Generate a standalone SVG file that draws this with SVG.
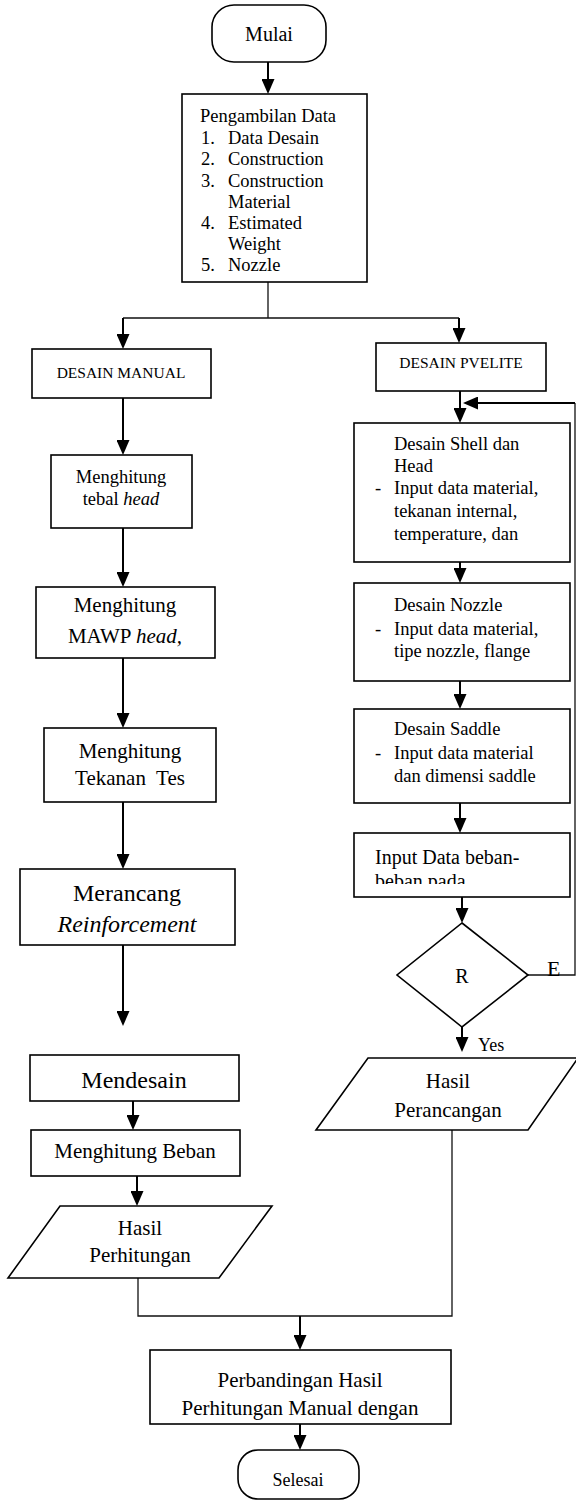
<svg xmlns="http://www.w3.org/2000/svg" width="576" height="1501" viewBox="0 0 576 1501">
<style>
.bx{fill:#fff;stroke:#000;stroke-width:1.6}
.t{font-family:"Liberation Serif","Times New Roman",serif;fill:#000}
.c{text-anchor:middle}
.ar{fill:none;stroke:#000;stroke-width:2;marker-end:url(#ah)}
.th{fill:none;stroke:#111;stroke-width:1.3}
</style>
<defs>
<marker id="ah" viewBox="0 0 15 13" refX="12" refY="6.5" markerWidth="15" markerHeight="13" markerUnits="userSpaceOnUse" orient="auto">
<path d="M0,0 L15,6.5 L0,13 z" fill="#000"/>
</marker>
<clipPath id="clipIn"><rect x="354" y="833" width="216" height="51"/></clipPath>
</defs>
<rect width="576" height="1501" fill="#fff"/>

<g id="connectors">
<path class="ar" d="M268,62 V91"/>
<path class="th" d="M268,282 V318 M123,318 H459"/>
<path class="ar" d="M123,318 V346"/>
<path class="ar" d="M459,318 V340"/>
<path class="ar" d="M123,398 V452"/>
<path class="ar" d="M123,528 V584"/>
<path class="ar" d="M123,658 V725"/>
<path class="ar" d="M123,802 V866"/>
<path class="ar" d="M123,945 V1023"/>
<path class="ar" d="M133,1101 V1127"/>
<path class="ar" d="M137,1176 V1203"/>
<path class="th" d="M138,1278 V1316 H452 V1130"/>
<path class="ar" d="M300,1316 V1347"/>
<path class="ar" d="M300,1424 V1447"/>
<path class="ar" d="M460,391 V420"/>
<path class="th" d="M528,975 H575 V403"/>
<path class="ar" d="M575,403 H466"/>
<path class="ar" d="M460,562 V580"/>
<path class="ar" d="M460,681 V706"/>
<path class="ar" d="M460,803 V830"/>
<path class="ar" d="M462,897 V920"/>
<path class="ar" d="M462,1027 V1049"/>
</g>

<g id="mulai">
<rect class="bx" x="212" y="5" width="114" height="57" rx="22"/>
<text class="t c" x="269" y="41" font-size="20">Mulai</text>
</g>

<g id="pengambilan">
<rect class="bx" x="182" y="94" width="185" height="188"/>
<g class="t" font-size="18.5">
<text class="c" x="268" y="122">Pengambilan Data</text>
<text x="201" y="144">1.</text><text x="228" y="144">Data Desain</text>
<text x="201" y="165">2.</text><text x="228" y="165">Construction</text>
<text x="201" y="187">3.</text><text x="228" y="187">Construction</text>
<text x="228" y="208">Material</text>
<text x="201" y="229">4.</text><text x="228" y="229">Estimated</text>
<text x="228" y="250">Weight</text>
<text x="201" y="271">5.</text><text x="228" y="271">Nozzle</text>
</g>
</g>

<g id="desain-manual">
<rect class="bx" x="32" y="349" width="179" height="49"/>
<text class="t c" x="121" y="378" font-size="15.5">DESAIN MANUAL</text>
</g>

<g id="tebal-head">
<rect class="bx" x="51" y="455" width="141" height="73"/>
<text class="t c" x="121" y="483" font-size="18.5">Menghitung</text>
<text class="t c" x="121" y="505" font-size="18.5">tebal <tspan font-style="italic">head</tspan></text>
</g>

<g id="mawp">
<rect class="bx" x="36" y="587" width="179" height="71"/>
<text class="t c" x="125" y="612" font-size="21">Menghitung</text>
<text class="t c" x="125" y="643" font-size="21">MAWP <tspan font-style="italic">head,</tspan></text>
</g>

<g id="tekanan-tes">
<rect class="bx" x="44" y="728" width="172" height="74"/>
<text class="t c" x="130" y="758" font-size="21">Menghitung</text>
<text class="t c" x="130" y="785" font-size="21">Tekanan&#160; Tes</text>
</g>

<g id="reinforcement">
<rect class="bx" x="20" y="869" width="215" height="76"/>
<text class="t c" x="127" y="901" font-size="24">Merancang</text>
<text class="t c" x="127" y="932" font-size="24" font-style="italic">Reinforcement</text>
</g>

<g id="mendesain">
<rect class="bx" x="30" y="1055" width="209" height="46"/>
<text class="t c" x="134" y="1088" font-size="24">Mendesain</text>
</g>

<g id="menghitung-beban">
<rect class="bx" x="31" y="1130" width="209" height="46"/>
<text class="t c" x="135" y="1158" font-size="21">Menghitung Beban</text>
</g>

<g id="hasil-perhitungan">
<polygon class="bx" points="60,1206 272,1206 219,1278 8,1278"/>
<text class="t c" x="140" y="1235" font-size="21">Hasil</text>
<text class="t c" x="140" y="1262" font-size="21">Perhitungan</text>
</g>

<g id="desain-pvelite">
<rect class="bx" x="376" y="343" width="170" height="48"/>
<text class="t c" x="461" y="368" font-size="15.5">DESAIN PVELITE</text>
</g>

<g id="desain-shell">
<rect class="bx" x="354" y="423" width="216" height="139"/>
<g class="t" font-size="18.5">
<text x="394" y="450">Desain Shell dan</text>
<text x="394" y="472">Head</text>
<text x="375" y="494">-</text><text x="394" y="494">Input data material,</text>
<text x="394" y="517">tekanan internal,</text>
<text x="394" y="540">temperature, dan</text>
</g>
</g>

<g id="desain-nozzle">
<rect class="bx" x="354" y="583" width="216" height="98"/>
<g class="t" font-size="18.5">
<text x="394" y="611">Desain Nozzle</text>
<text x="375" y="635">-</text><text x="394" y="635">Input data material,</text>
<text x="394" y="657">tipe nozzle, flange</text>
</g>
</g>

<g id="desain-saddle">
<rect class="bx" x="354" y="709" width="216" height="94"/>
<g class="t" font-size="18.5">
<text x="394" y="735">Desain Saddle</text>
<text x="375" y="759">-</text><text x="394" y="759">Input data material</text>
<text x="394" y="782">dan dimensi saddle</text>
</g>
</g>

<g id="input-beban">
<rect class="bx" x="354" y="833" width="216" height="64"/>
<g class="t" font-size="20" clip-path="url(#clipIn)">
<text x="375" y="864">Input Data beban-</text>
<text x="375" y="888">beban pada</text>
</g>
</g>

<g id="decision">
<polygon class="bx" points="462,923 528,975 462,1027 397,975"/>
<text class="t c" x="462" y="983" font-size="20">R</text>
<text class="t" x="547" y="976" font-size="22">E</text>
<text class="t" x="478" y="1051" font-size="18">Yes</text>
</g>

<g id="hasil-perancangan">
<polygon class="bx" points="368,1058 578,1058 528,1130 316,1130"/>
<text class="t c" x="448" y="1088" font-size="21">Hasil</text>
<text class="t c" x="448" y="1117" font-size="21">Perancangan</text>
</g>

<g id="perbandingan">
<rect class="bx" x="150" y="1350" width="301" height="74"/>
<text class="t c" x="300" y="1387" font-size="21">Perbandingan Hasil</text>
<text class="t c" x="300" y="1415" font-size="21">Perhitungan Manual dengan</text>
</g>

<g id="selesai">
<rect class="bx" x="238" y="1450" width="121" height="49" rx="20"/>
<text class="t c" x="298" y="1486" font-size="18">Selesai</text>
</g>
</svg>
